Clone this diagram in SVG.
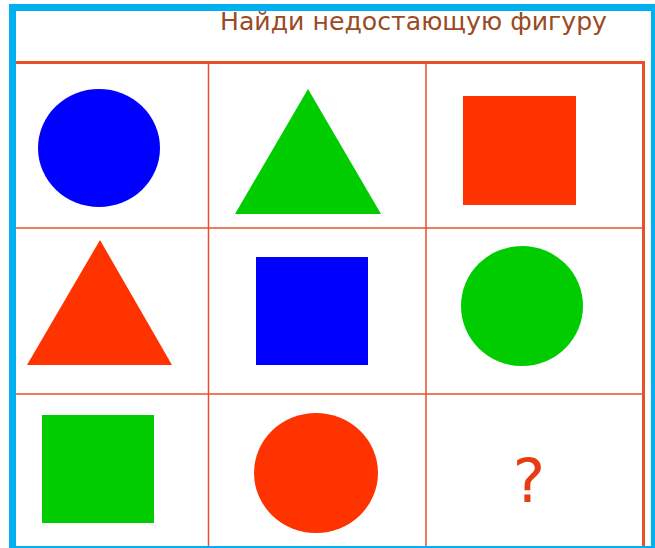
<svg xmlns="http://www.w3.org/2000/svg" width="655" height="548" viewBox="0 0 655 548">
<style>
.grid{stroke:#e8502a;fill:none}
.blue{fill:#0000ff}.green{fill:#00cc00}.red{fill:#ff3300}
.title{font-family:"DejaVu Sans",Verdana,sans-serif;font-size:25px;fill:#9a4a24}
.q{font-family:"DejaVu Sans",Verdana,sans-serif;font-size:61px;fill:#e63c12}
</style>
<rect x="0" y="0" width="655" height="548" fill="#ffffff"/>
<rect x="9" y="4" width="646" height="544" fill="#00b0f0"/>
<rect x="16" y="11" width="635" height="535" fill="#ffffff"/>
<g id="title"><text class="title" x="220" y="29.5" textLength="387" lengthAdjust="spacingAndGlyphs">Найди недостающую фигуру</text></g>
<g id="grid">
<line class="grid" x1="16" y1="62.5" x2="645" y2="62.5" stroke-width="3"/>
<line class="grid" x1="643.5" y1="61" x2="643.5" y2="546" stroke-width="3"/>
<line class="grid" x1="208.5" y1="63" x2="208.5" y2="546" stroke-width="1.5"/>
<line class="grid" x1="426" y1="63" x2="426" y2="546" stroke-width="1.5"/>
<line class="grid" x1="16" y1="228" x2="643" y2="228" stroke-width="1.5"/>
<line class="grid" x1="16" y1="394" x2="643" y2="394" stroke-width="1.5"/>
</g>
<g id="blue-circle"><ellipse class="blue" cx="99" cy="148" rx="61" ry="59"/></g>
<g id="green-triangle"><polygon class="green" points="308,89 381,214 235,214"/></g>
<g id="red-square"><rect class="red" x="463" y="96" width="113" height="109"/></g>
<g id="red-triangle"><polygon class="red" points="100,240 172,365 27,365"/></g>
<g id="blue-square"><rect class="blue" x="256" y="257" width="112" height="108"/></g>
<g id="green-circle"><ellipse class="green" cx="522" cy="306" rx="61" ry="60"/></g>
<g id="green-square"><rect class="green" x="42" y="415" width="112" height="108"/></g>
<g id="red-circle"><ellipse class="red" cx="316" cy="473" rx="62" ry="60"/></g>
<g id="question"><text class="q" x="529" y="502" text-anchor="middle">?</text></g>
</svg>
